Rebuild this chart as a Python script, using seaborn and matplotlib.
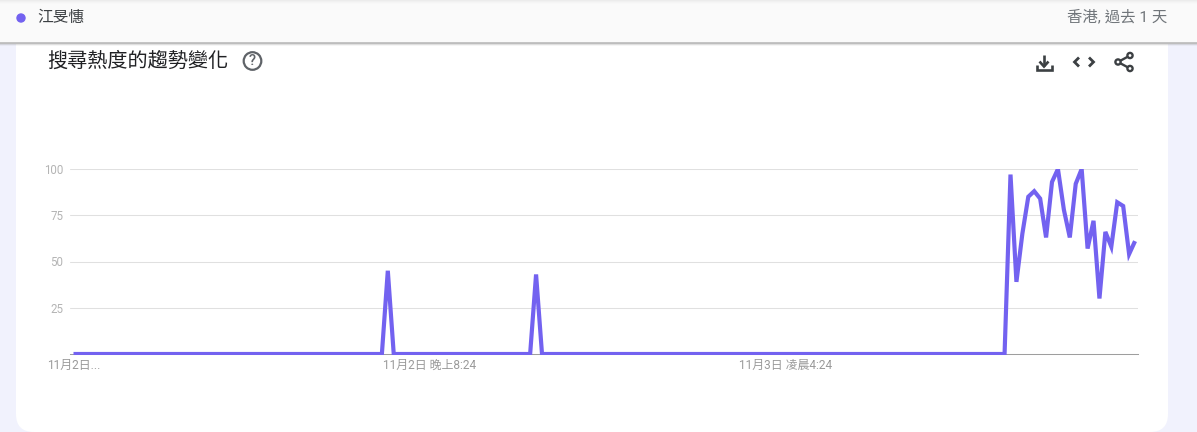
import numpy as np
import pandas as pd
import matplotlib
matplotlib.use("Agg")
import matplotlib.pyplot as plt
from matplotlib.patches import FancyBboxPatch, Rectangle, Circle
import seaborn as sns

W, H = 1197, 432
sns.set_theme(style="white")
FONT = ["Roboto", "Noto Sans CJK TC", "DejaVu Sans"]
CJK = ["Noto Sans CJK TC", "DejaVu Sans"]
plt.rcParams["font.family"] = FONT

series_name = "江旻憓"
title = "搜尋熱度的趨勢變化"
region = "香港, 過去 1 天"
quiet_a = [0] * 53
spike_a = [45]
quiet_b = [0] * 24
spike_b = [43]
quiet_c = [0] * 79
burst = [97, 39, 65, 85, 88, 84, 63, 93, 100, 78, 63, 92, 100, 57, 72, 30, 66, 58, 82, 80, 54, 61]
values = quiet_a + spike_a + quiet_b + spike_b + quiet_c + burst
x_ticks = [0, 60, 120]
x_labels = ["11月2日...", "11月2日 晚上8:24", "11月3日 凌晨4:24"]
y_ticks = [25, 50, 75, 100]
df = pd.DataFrame({"t": np.arange(len(values)), "v": values})

PURPLE = "#7362f0"
fig = plt.figure(figsize=(W / 100, H / 100), dpi=100, facecolor="#f1f2fd")

# page furniture, in pixel coordinates
bg = fig.add_axes([0, 0, 1, 1], zorder=0)
bg.set_xlim(0, W); bg.set_ylim(H, 0); bg.axis("off")
bg.add_patch(FancyBboxPatch((16, 0), 1152, 432, boxstyle="round,pad=0,rounding_size=18",
                            fc="white", ec="none", mutation_aspect=1))
bg.add_patch(Rectangle((16, 0), 1152, 300, fc="white", ec="none"))

# chart
left, right, top, bottom = 70, 1138, 169, 354
ax = fig.add_axes([left / W, 1 - bottom / H, (right - left) / W, (bottom - top) / H], zorder=2)
ax.patch.set_alpha(0)
sns.lineplot(data=df, x="t", y="v", ax=ax, color=PURPLE, lw=3.0,
             solid_joinstyle="miter", solid_capstyle="butt", zorder=5, errorbar=None)
clip = Rectangle((left, top - 0.5), right - left, bottom - top + 1.5, transform=bg.transData)
ax.lines[0].set_clip_path(clip)
ax.set_xlim(-0.59, 179.5)
ax.set_ylim(0, 100)
ax.set_xlabel(""); ax.set_ylabel("")
ax.set_yticks(y_ticks)
ax.set_yticklabels([str(v) for v in y_ticks], fontsize=8.3, color="#b4b4b4")
ax.set_xticks(x_ticks)
ax.set_xticklabels(x_labels, fontsize=8.6, color="#9a9a9a")
ax.tick_params(axis="both", length=0)
ax.tick_params(axis="y", pad=5)
ax.tick_params(axis="x", pad=3.5)
ax.grid(False)
ax.yaxis.grid(True, color="#e0e0e0", lw=0.75)
ax.set_axisbelow(True)
for s in ["top", "left", "right"]:
    ax.spines[s].set_visible(False)
ax.spines["bottom"].set_color("#9e9e9e")
ax.spines["bottom"].set_linewidth(0.75)

# top bar and its shadow
fg = fig.add_axes([0, 0, 1, 1], zorder=3)
fg.set_xlim(0, W); fg.set_ylim(H, 0); fg.axis("off"); fg.patch.set_alpha(0)
fg.add_patch(Rectangle((0, 0), W, 42, fc="#fafafa", ec="none"))
for y, c in zip([0, 1, 2, 3], ["#ececec", "#f1f1f1", "#f5f5f5", "#f8f8f8"]):
    fg.add_patch(Rectangle((0, y), W, 1, fc=c, ec="none"))
for y, c, a in zip([41.5, 42.5, 43.5, 44.5], ["#c4c4c4", "#bdbdbd", "#808080", "#808080"], [1, 1, 0.25, 0.08]):
    fg.add_patch(Rectangle((0, y), W, 1, fc=c, ec="none", alpha=a))
fg.add_patch(Circle((21, 18), 4.7, fc=PURPLE, ec="none"))
fg.text(37.5, 17.5, series_name, family=CJK, fontsize=11.3, color="#3c4043", va="center", ha="left")
fg.text(1167, 17, region, family=FONT, fontsize=11.1, color="#70757a", va="center", ha="right")
fg.text(47.5, 61.5, title, family=CJK, fontsize=14.5, color="#202124", va="center", ha="left")

# help icon
fg.add_patch(Circle((252.5, 61), 8.8, fc="none", ec="#5f6368", lw=1.6))
fg.text(252.5, 61, "?", family="Roboto", fontsize=10.5, color="#5f6368", va="center", ha="center", fontweight="medium")

# download icon
ic = "#3c4043"
fg.plot([1044, 1044], [55, 66], color=ic, lw=1.9, solid_capstyle="butt")
fg.plot([1039.5, 1044, 1048.5], [61.5, 66.5, 61.5], color=ic, lw=1.9, solid_joinstyle="miter", solid_capstyle="butt")
fg.plot([1036.5, 1036.5, 1051.5, 1051.5], [65, 70, 70, 65], color=ic, lw=1.9, solid_joinstyle="miter", solid_capstyle="butt")
# code icon
fg.plot([1079, 1074.5, 1079], [57.5, 62, 66.5], color=ic, lw=2, solid_joinstyle="miter", solid_capstyle="butt")
fg.plot([1089, 1093.5, 1089], [57.5, 62, 66.5], color=ic, lw=2, solid_joinstyle="miter", solid_capstyle="butt")
# share icon
fg.plot([1130, 1118, 1130], [55.5, 62, 68.5], color=ic, lw=1.7)
for cx, cy in [(1130, 55.5), (1118, 62), (1130, 68.5)]:
    fg.add_patch(Circle((cx, cy), 2.6, fc="white", ec=ic, lw=1.7, zorder=6))

fig.savefig("out.png", dpi=100, facecolor=fig.get_facecolor())
